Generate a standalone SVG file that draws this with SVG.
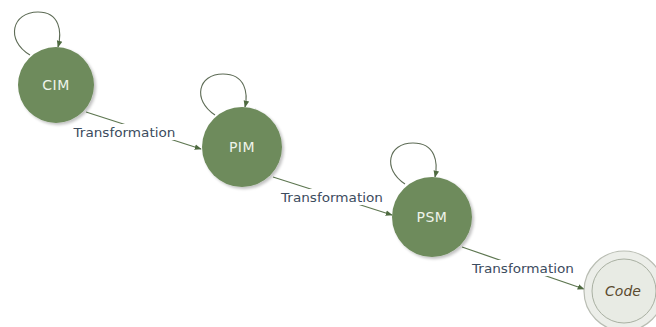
<svg xmlns="http://www.w3.org/2000/svg" width="656" height="327" viewBox="0 0 656 327">
  <defs>
    <marker id="arrow" viewBox="0 0 10 10" refX="9" refY="5" markerWidth="7" markerHeight="7" orient="auto" markerUnits="userSpaceOnUse">
      <path d="M0,1 L10,5 L0,9 z" fill="#4e6a40"/>
    </marker>
    <filter id="shade" x="-20%" y="-20%" width="150%" height="150%">
      <feGaussianBlur in="SourceAlpha" stdDeviation="1.5"/>
      <feOffset dx="1.5" dy="1.5" result="b"/>
      <feComponentTransfer><feFuncA type="linear" slope="0.25"/></feComponentTransfer>
      <feMerge><feMergeNode/><feMergeNode in="SourceGraphic"/></feMerge>
    </filter>
  </defs>
  <style>
    .state { fill: #6e8b5c; filter: url(#shade); }
    .state-label { font-family: "DejaVu Sans", "Liberation Sans", sans-serif; font-size: 14px; letter-spacing: 0.5px; fill: #eef3ea; text-anchor: middle; }
    .final-outer { fill: #eceee9; stroke: #b9bdb3; stroke-width: 1.2; }
    .final-inner { fill: #e8ebe4; stroke: #a9b0a2; stroke-width: 1; }
    .final-label { font-family: "DejaVu Sans", "Liberation Sans", sans-serif; font-size: 14px; font-style: italic; fill: #5a4a2e; text-anchor: middle; }
    .edge { fill: none; stroke: #5d7650; stroke-width: 1.2; marker-end: url(#arrow); }
    .loop { fill: none; stroke: #5d6b55; stroke-width: 1.1; marker-end: url(#arrow); }
    .edge-bg { fill: #ffffff; }
    .edge-label { font-family: "DejaVu Sans", "Liberation Sans", sans-serif; font-size: 13px; fill: #3c4c5e; text-anchor: middle; }
  </style>

  <rect width="656" height="327" fill="#ffffff"/>

  <g id="connectors">
    <!-- self loops -->
    <path class="loop" d="M30,55 C5,40 12,12 38,12 C60,12 62,32 58,47"/>
    <path class="loop" d="M215,115 C192,100 198,74 223,74 C246,74 248,94 245,107"/>
    <path class="loop" d="M405,184 C382,169 388,143 413,143 C436,143 438,163 435,177"/>
    <!-- transformations -->
    <path class="edge" d="M86,112 L201,149"/>
    <rect class="edge-bg" x="71" y="124" width="107" height="16"/>
    <text class="edge-label" x="124.5" y="137" textLength="102" lengthAdjust="spacingAndGlyphs">Transformation</text>

    <path class="edge" d="M273,177 L392,215"/>
    <rect class="edge-bg" x="279" y="189" width="107" height="16"/>
    <text class="edge-label" x="332" y="202" textLength="102" lengthAdjust="spacingAndGlyphs">Transformation</text>

    <path class="edge" d="M462,247 L584,289"/>
    <rect class="edge-bg" x="470" y="260" width="107" height="16"/>
    <text class="edge-label" x="523" y="273" textLength="102" lengthAdjust="spacingAndGlyphs">Transformation</text>
  </g>

  <g id="cim">
    <circle class="state" cx="56" cy="85" r="38"/>
    <text class="state-label" x="56" y="90">CIM</text>
  </g>
  <g id="pim">
    <circle class="state" cx="242" cy="147" r="40"/>
    <text class="state-label" x="242" y="152">PIM</text>
  </g>
  <g id="psm">
    <circle class="state" cx="432" cy="217" r="40"/>
    <text class="state-label" x="432" y="222">PSM</text>
  </g>
  <g id="code">
    <circle class="final-outer" cx="624" cy="291" r="40"/>
    <circle class="final-inner" cx="624" cy="291" r="32"/>
    <text class="final-label" x="623" y="296">Code</text>
  </g>
</svg>
